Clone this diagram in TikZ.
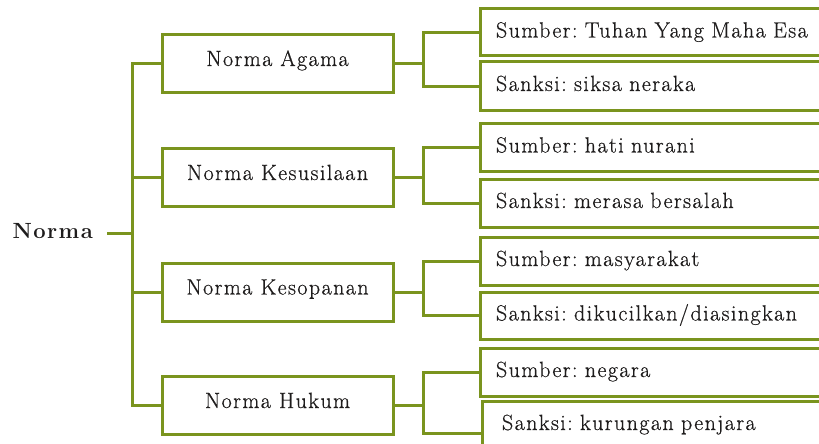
\documentclass[tikz,border=0pt]{standalone}
\usepackage{fontspec}
\setmainfont{Latin Modern Roman}[LetterSpace=6.5]
\newfontfamily\boxface{Latin Modern Roman}[LetterSpace=6.5,FakeBold=0.6]
\definecolor{leafgreen}{RGB}{122,148,30}
\definecolor{ink}{RGB}{30,28,28}
\newcommand{\boxfont}{\boxface\fontsize{22}{26}\selectfont}
\frenchspacing
\begin{document}
\begin{tikzpicture}[x=1pt,y=-1pt,
  wire/.style={draw=leafgreen,line width=3pt},
  kind/.style={draw=leafgreen,line width=3pt,fill=white,text=ink,
    minimum width=231pt,minimum height=58pt,inner sep=0pt,
    font=\boxfont,text height=12pt,text depth=7pt},
  detail/.style={draw=leafgreen,line width=3pt,fill=white,text=ink,
    anchor=west,minimum height=48pt,text width=320pt,inner xsep=15.5pt,
    inner ysep=0pt,align=left,font=\boxfont,text height=14pt,text depth=4pt}
]
\clip (0,0) rectangle (819,444);

% root label
\node[anchor=east,text=ink,font=\fontsize{22}{26}\selectfont\bfseries,inner sep=0pt,
  text height=14pt,text depth=4pt] (root) at (93,233) {Norma};

% first level: the four kinds of norms
\node[kind] (agama)  at (277.5,63.5)  {Norma Agama};
\node[kind] (susila) at (277.5,177.5) {Norma Kesusilaan};
\node[kind] (sopan)  at (277.5,292)   {Norma Kesopanan};
\node[kind] (hukum)  at (277.5,405.5) {Norma Hukum};

% second level: source and sanction of each norm
\node[detail,minimum height=47pt] (agamaS) at (479,32.5) {Sumber: Tuhan Yang Maha Esa};
\node[detail,minimum height=48pt] (agamaK) at (479,86) {Sanksi: siksa neraka};
\node[detail,minimum height=48pt] (susilaS) at (479,147.5) {Sumber: hati nurani};
\node[detail] (susilaK) at (479,203)   {Sanksi: merasa bersalah};
\node[detail] (sopanS)  at (479,261)   {Sumber: masyarakat};
\node[detail,minimum height=47pt] (sopanK) at (479,315.5) {Sanksi: dikucilkan/diasingkan};
\node[detail] (hukumS)  at (479,372)   {Sumber: negara};
\node[detail,minimum height=64pt,inner xsep=19.5pt,text width=316pt,
  text depth=20pt] (hukumK) at (481,433) {Sanksi: kurungan penjara};

% trunk from the root to the first level
\coordinate (trunk) at (132,0);
\coordinate (fork) at (423,0);
\draw[wire] ([xshift=14pt]root.east) -- (root.east -| trunk);
\draw[wire] (agama.west) -- (agama.west -| trunk) -- (hukum.west -| trunk) -- (hukum.west);
\draw[wire] (susila.west) -- (susila.west -| trunk);
\draw[wire] (sopan.west) -- (sopan.west -| trunk);

% forks from each norm to its source and sanction
\foreach \n in {agama,susila,sopan,hukum}{
  \draw[wire] (\n.east) -- (\n.east -| fork);
  \draw[wire] (\n S.west) -- (\n S.west -| fork) -- (\n K.west -| fork) -- (\n K.west);
}
\end{tikzpicture}
\end{document}
